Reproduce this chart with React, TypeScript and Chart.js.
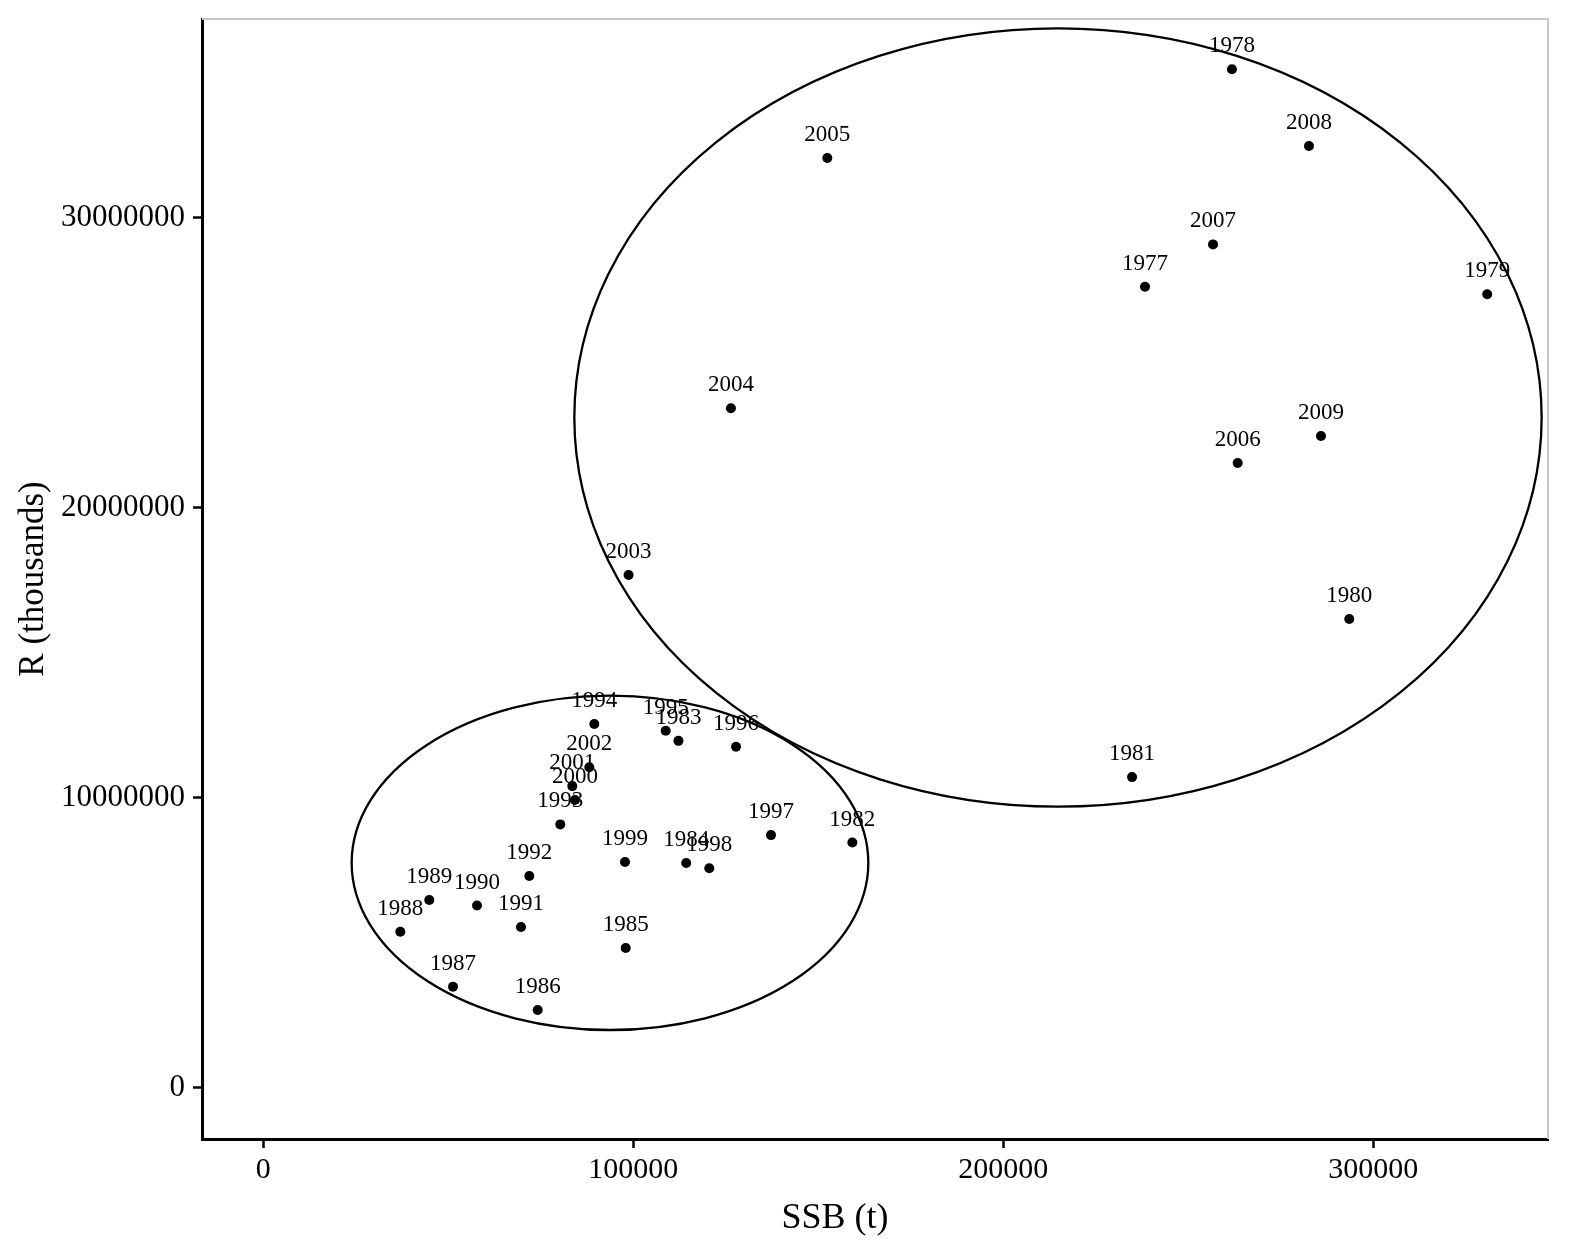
import React, { useEffect, useRef } from "react";
import { Chart, registerables } from "chart.js";

Chart.register(...registerables);

const years = [
  1977, 1978, 1979, 1980, 1981, 1982, 1983, 1984, 1985, 1986, 1987, 1988,
  1989, 1990, 1991, 1992, 1993, 1994, 1995, 1996, 1997, 1998, 1999, 2000,
  2001, 2002, 2003, 2004, 2005, 2006, 2007, 2008, 2009,
];
const ssb = [
  238300, 261800, 330800, 293500, 234800, 159200, 112200, 114300, 97950,
  74160, 51270, 37030, 44860, 57760, 69650, 71890, 80270, 89460, 108760,
  127760, 137220, 120540, 97760, 84240, 83510, 88110, 98730, 126380, 152430,
  263350, 256680, 282620, 285860,
];
const recruits = [
  27620000, 35120000, 27360000, 16160000, 10710000, 8455000, 11960000,
  7750000, 4820000, 2680000, 3480000, 5380000, 6470000, 6280000, 5540000,
  7300000, 9080000, 12540000, 12310000, 11760000, 8710000, 7570000, 7780000,
  9920000, 10400000, 11050000, 17680000, 23430000, 32060000, 21540000,
  29080000, 32470000, 22470000,
];

const xTicks = [0, 100000, 200000, 300000];
const yTicks = [0, 10000000, 20000000, 30000000];

const ellipseCenterX = [214780, 93700];
const ellipseCenterY = [23110000, 7753000];
const ellipseRadiusX = [130720, 69820];
const ellipseRadiusY = [13420000, 5764000];

const FONT = '"Liberation Serif", "Times New Roman", serif';

const overlayPlugin = {
  id: "overlay",
  afterDatasetsDraw(chart: any) {
    const { ctx, chartArea, scales } = chart;
    const xs = scales.x;
    const ys = scales.y;
    ctx.save();

    // light panel border on top and right
    ctx.strokeStyle = "#c6c6c6";
    ctx.lineWidth = 2;
    ctx.beginPath();
    ctx.moveTo(chartArea.left, chartArea.top);
    ctx.lineTo(chartArea.right, chartArea.top);
    ctx.lineTo(chartArea.right, chartArea.bottom);
    ctx.stroke();

    // ellipses
    ctx.strokeStyle = "#000";
    ctx.lineWidth = 2.3;
    for (let i = 0; i < ellipseCenterX.length; i++) {
      const cx = xs.getPixelForValue(ellipseCenterX[i]);
      const cy = ys.getPixelForValue(ellipseCenterY[i]);
      const rx = Math.abs(xs.getPixelForValue(ellipseCenterX[i] + ellipseRadiusX[i]) - cx);
      const ry = Math.abs(ys.getPixelForValue(ellipseCenterY[i] + ellipseRadiusY[i]) - cy);
      ctx.beginPath();
      ctx.ellipse(cx, cy, rx, ry, 0, 0, Math.PI * 2);
      ctx.stroke();
    }

    // year labels
    const meta = chart.getDatasetMeta(0);
    ctx.fillStyle = "#000";
    ctx.font = `23px ${FONT}`;
    ctx.textAlign = "center";
    ctx.textBaseline = "alphabetic";
    meta.data.forEach((el: any, i: number) => {
      ctx.fillText(String(years[i]), el.x, el.y - 17);
    });

    // x axis title
    ctx.font = `36px ${FONT}`;
    ctx.textBaseline = "middle";
    ctx.fillText("SSB (t)", (chartArea.left + chartArea.right) / 2 - 40, chartArea.bottom + 80);

    ctx.restore();
  },
};

export default function App() {
  const canvasRef = useRef<HTMLCanvasElement | null>(null);

  useEffect(() => {
    if (!canvasRef.current) return;
    const points = ssb.map((x, i) => ({ x, y: recruits[i] }));
    const chart = new Chart(canvasRef.current, {
      type: "scatter",
      data: {
        datasets: [
          {
            data: points,
            backgroundColor: "#000",
            borderColor: "#000",
            borderWidth: 0,
            pointRadius: 5,
            pointHoverRadius: 5,
          },
        ],
      },
      options: {
        animation: false,
        responsive: false,
        maintainAspectRatio: false,
        events: [],
        layout: { padding: { left: 0, top: 19, right: 27, bottom: 0 } },
        plugins: {
          legend: { display: false },
          tooltip: { enabled: false },
        },
        scales: {
          x: {
            type: "linear",
            min: -16570,
            max: 347220,
            afterBuildTicks: (scale: any) => {
              scale.ticks = xTicks.map((v) => ({ value: v }));
            },
            afterFit: (scale: any) => {
              scale.height = 109;
              scale.paddingLeft = 0;
              scale.paddingRight = 0;
            },
            border: { display: true, color: "#000", width: 3 },
            grid: {
              display: true,
              drawOnChartArea: false,
              drawTicks: true,
              tickLength: 9,
              tickWidth: 2.5,
              tickColor: "#000",
            },
            ticks: {
              color: "#000",
              font: { family: FONT, size: 30 },
              padding: 4,
              maxRotation: 0,
              autoSkip: false,
              callback: (v: any) => String(v),
            },
          },
          y: {
            type: "linear",
            min: -1769000,
            max: 36852000,
            afterBuildTicks: (scale: any) => {
              scale.ticks = yTicks.map((v) => ({ value: v }));
            },
            afterFit: (scale: any) => {
              scale.width = 202;
              scale.paddingTop = 0;
              scale.paddingBottom = 0;
            },
            border: { display: true, color: "#000", width: 3 },
            grid: {
              display: true,
              drawOnChartArea: false,
              drawTicks: true,
              tickLength: 9,
              tickWidth: 2.5,
              tickColor: "#000",
            },
            ticks: {
              color: "#000",
              font: { family: FONT, size: 31 },
              padding: 8,
              autoSkip: false,
              callback: (v: any) => String(v),
            },
            title: {
              display: true,
              text: "R (thousands)",
              color: "#000",
              font: { family: FONT, size: 35 },
              padding: { top: 13, bottom: 0 },
            },
          },
        },
      },
      plugins: [overlayPlugin],
    });
    return () => chart.destroy();
  }, []);

  return (
    <div style={{ position: "absolute", left: 0, top: 0, width: 1575, height: 1248, background: "#fff" }}>
      <canvas ref={canvasRef} width={1575} height={1248} style={{ display: "block" }} />
    </div>
  );
}
